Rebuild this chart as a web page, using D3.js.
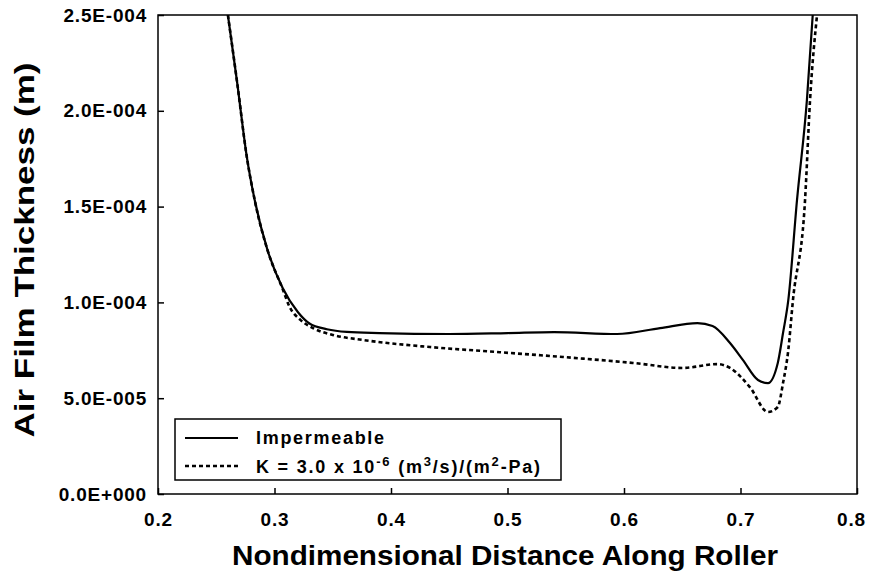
<!DOCTYPE html>
<html>
<head>
<meta charset="utf-8">
<script src="https://cdn.jsdelivr.net/npm/d3@7"></script>
<style>
  body { margin: 0; background: #fff; }
  text { font-family: Arial, "Liberation Sans", sans-serif; fill: #000; }
</style>
</head>
<body>
<script>
// data (thickness in units of 1e-4 m)
const impX = [0.260, 0.268, 0.276, 0.283, 0.294, 0.307, 0.320, 0.330, 0.345, 0.362, 0.390, 0.450, 0.500, 0.540, 0.594, 0.631, 0.663, 0.676, 0.691, 0.702, 0.715, 0.7236, 0.732, 0.7365, 0.741, 0.7485, 0.757, 0.762];
const impY = [2.5, 2.145, 1.769, 1.534, 1.273, 1.075, 0.95, 0.89, 0.86, 0.846, 0.84, 0.835, 0.84, 0.845, 0.835, 0.866, 0.892, 0.877, 0.788, 0.70, 0.595, 0.579, 0.684, 0.84, 1.01, 1.534, 2.056, 2.5];

const permX = [0.260, 0.268, 0.276, 0.283, 0.294, 0.307, 0.313, 0.322, 0.333, 0.350, 0.376, 0.4335, 0.491, 0.5477, 0.6077, 0.6506, 0.6798, 0.691, 0.708, 0.7236, 0.732, 0.7365, 0.741, 0.745, 0.7554, 0.7597, 0.7657];
const permY = [2.5, 2.145, 1.769, 1.534, 1.273, 1.07, 0.976, 0.91, 0.866, 0.83, 0.804, 0.767, 0.741, 0.715, 0.684, 0.658, 0.678, 0.658, 0.558, 0.428, 0.454, 0.579, 0.75, 1.01, 1.534, 2.056, 2.5];

const xTicks = [0.2, 0.3, 0.4, 0.5, 0.6, 0.7, 0.8];
const yTicks = [0, 0.5e-4, 1.0e-4, 1.5e-4, 2.0e-4, 2.5e-4];
const yTickLabels = ["0.0E+000", "5.0E-005", "1.0E-004", "1.5E-004", "2.0E-004", "2.5E-004"];

const width = 869;
const height = 576;

const x = d3.scaleLinear().domain([0.2, 0.8]).range([158, 857]);
const y = d3.scaleLinear().domain([0, 2.5e-4]).range([494, 15]);

const svg = d3.select("body").append("svg")
    .attr("width", width)
    .attr("height", height);

svg.append("defs").append("clipPath").attr("id", "clip")
  .append("rect")
    .attr("x", 158).attr("y", 15)
    .attr("width", 699).attr("height", 479);

// axes, ticks point inward
const xAxis = d3.axisBottom(x).tickValues(xTicks).tickSize(-6).tickFormat(d3.format(".1f"));
const yAxis = d3.axisLeft(y).tickValues(yTicks).tickSize(-6).tickFormat((d, i) => yTickLabels[i]);

const gx = svg.append("g").attr("transform", "translate(0,494)").call(xAxis);
const gy = svg.append("g").attr("transform", "translate(158,0)").call(yAxis);
[gx, gy].forEach(g => {
  g.select(".domain").remove();
  g.selectAll("line").attr("stroke", "#000").attr("stroke-width", 1.5);
  g.selectAll("text")
    .style("font-family", "Arial, 'Liberation Sans', sans-serif")
    .style("font-size", "19px")
    .style("font-weight", "bold")
    .style("letter-spacing", "0.8px")
    .attr("fill", "#000");
});
gy.selectAll("text").attr("x", -11);
gx.selectAll("text").attr("y", 19);
// keep the last label inside the page
gx.selectAll("text").filter(d => d === 0.8).attr("x", -6);

// frame
svg.append("rect")
    .attr("x", 158).attr("y", 15)
    .attr("width", 699).attr("height", 479)
    .attr("fill", "none")
    .attr("stroke", "#000")
    .attr("stroke-width", 1.5);

const line = d3.line()
    .x(d => x(d[0]))
    .y(d => y(d[1] * 1e-4))
    .curve(d3.curveMonotoneX);

const plot = svg.append("g").attr("clip-path", "url(#clip)");

plot.append("path")
    .datum(permX.map((v, i) => [v, permY[i]]))
    .attr("fill", "none")
    .attr("stroke", "#000")
    .attr("stroke-width", 2.6)
    .attr("stroke-dasharray", "4,3")
    .attr("d", line);

plot.append("path")
    .datum(impX.map((v, i) => [v, impY[i]]))
    .attr("fill", "none")
    .attr("stroke", "#000")
    .attr("stroke-width", 2.2)
    .attr("d", line);

// legend
const lg = svg.append("g");
lg.append("rect")
    .attr("x", 175).attr("y", 419)
    .attr("width", 386).attr("height", 61)
    .attr("fill", "#fff")
    .attr("stroke", "#000")
    .attr("stroke-width", 1.5);
lg.append("line")
    .attr("x1", 185).attr("x2", 238).attr("y1", 438).attr("y2", 438)
    .attr("stroke", "#000").attr("stroke-width", 2.2);
lg.append("line")
    .attr("x1", 185).attr("x2", 238).attr("y1", 466).attr("y2", 466)
    .attr("stroke", "#000").attr("stroke-width", 2.6).attr("stroke-dasharray", "4,3");
lg.append("text")
    .attr("x", 256).attr("y", 444)
    .style("font-size", "18px").style("font-weight", "bold").style("letter-spacing", "1.7px")
    .text("Impermeable");
const k = lg.append("text")
    .attr("x", 256).attr("y", 473)
    .style("font-size", "18px").style("font-weight", "bold").style("letter-spacing", "1.8px");
k.append("tspan").text("K = 3.0 x 10");
k.append("tspan").attr("dy", -7).style("font-size", "13px").text("-6");
k.append("tspan").attr("dy", 7).text(" (m");
k.append("tspan").attr("dy", -7).style("font-size", "13px").text("3");
k.append("tspan").attr("dy", 7).text("/s)/(m");
k.append("tspan").attr("dy", -7).style("font-size", "13px").text("2");
k.append("tspan").attr("dy", 7).text("-Pa)");

// axis titles
svg.append("text")
    .attr("x", 505).attr("y", 565)
    .attr("text-anchor", "middle")
    .attr("textLength", 546).attr("lengthAdjust", "spacingAndGlyphs")
    .style("font-size", "28px").style("font-weight", "bold")
    .text("Nondimensional Distance Along Roller");
svg.append("text")
    .attr("transform", "translate(34,250) rotate(-90)")
    .attr("text-anchor", "middle")
    .attr("textLength", 375).attr("lengthAdjust", "spacingAndGlyphs")
    .style("font-size", "28px").style("font-weight", "bold")
    .text("Air Film Thickness (m)");
</script>
</body>
</html>
